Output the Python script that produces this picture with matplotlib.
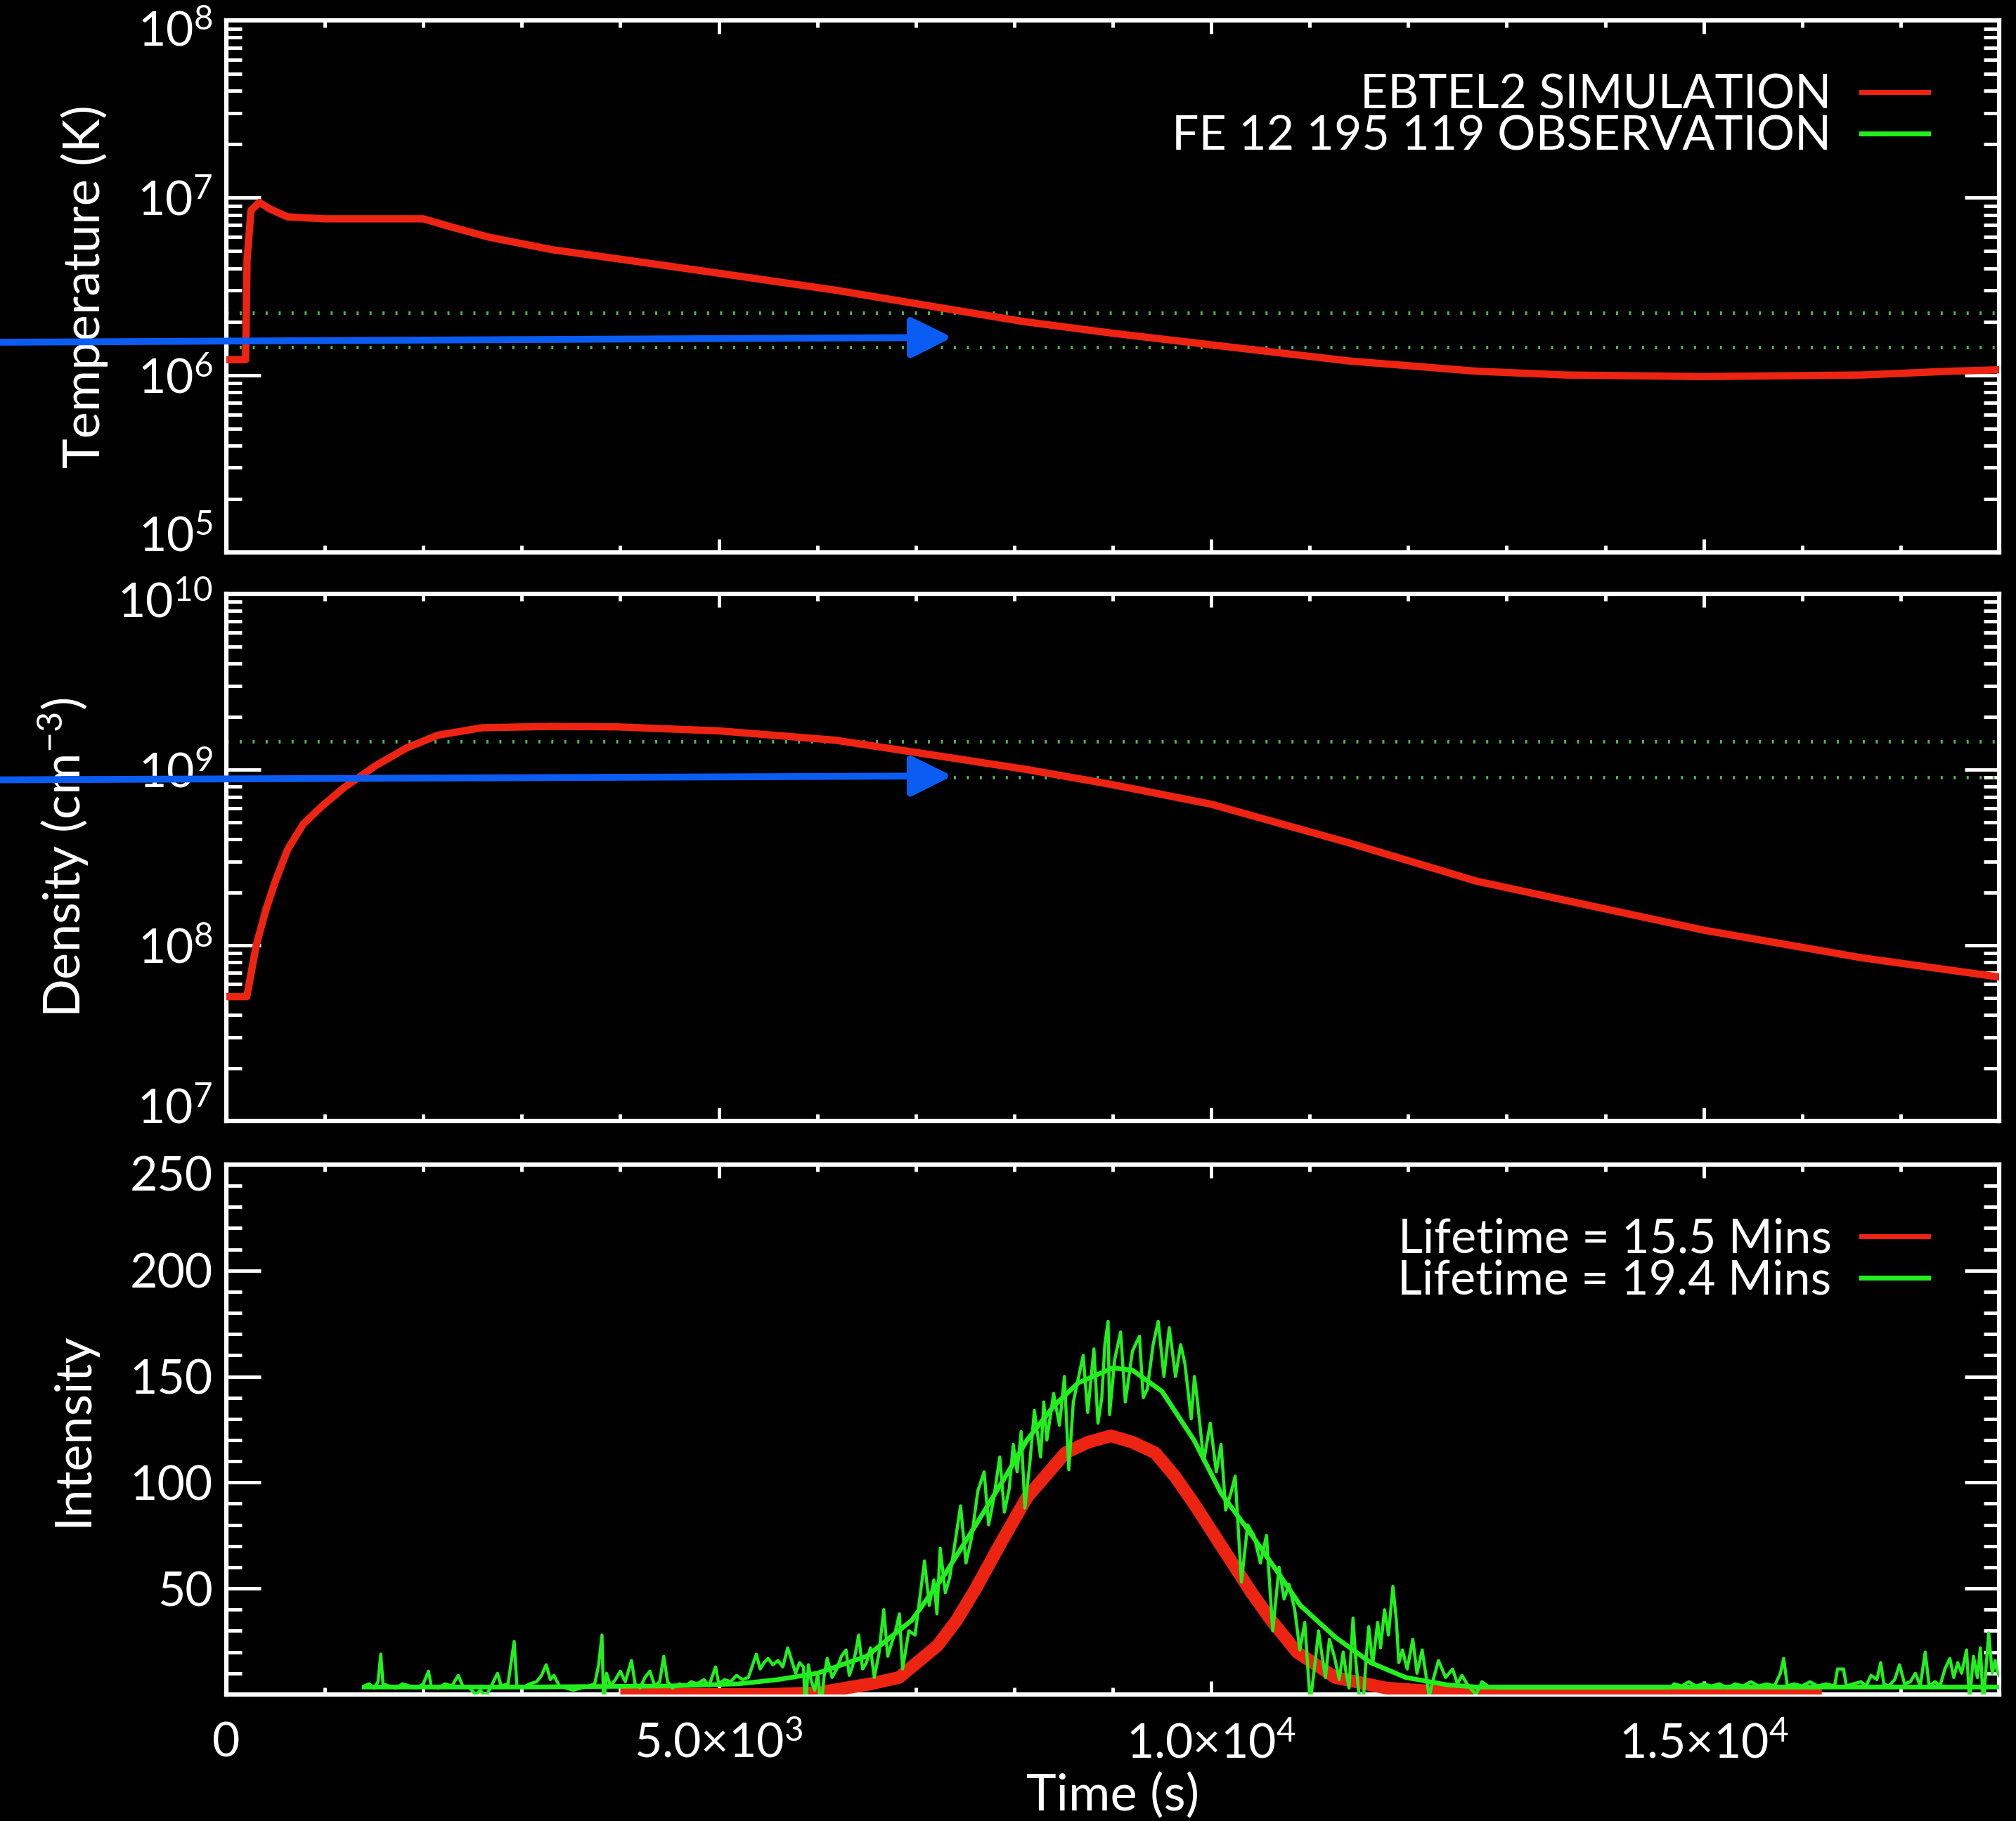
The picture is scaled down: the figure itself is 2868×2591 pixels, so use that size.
import matplotlib.pyplot as plt
import numpy as np
from matplotlib.ticker import (FixedLocator, FuncFormatter, LogLocator,
                               MultipleLocator, NullFormatter)
from matplotlib.transforms import ScaledTranslation
from matplotlib.lines import Line2D

plt.rcParams['font.family'] = ['Lato', 'DejaVu Sans']
plt.rcParams['mathtext.default'] = 'regular'

# ---------------- data ----------------
# EBTEL2 temperature (K)
temp_time = [0, 195, 210, 250, 335, 450, 620, 1000, 1500, 2000, 2300, 2660,
             3300, 4000, 5000, 6200, 7300, 8100, 9000, 10000, 11400, 12700,
             13600, 15000, 16600, 17500, 18000]
temp_vals = [1.22e6, 1.22e6, 4.5e6, 8.5e6, 9.4e6, 8.6e6, 7.8e6, 7.6e6, 7.6e6,
             7.6e6, 6.8e6, 6.0e6, 5.1e6, 4.5e6, 3.75e6, 3.0e6, 2.37e6, 2.0e6,
             1.72e6, 1.48e6, 1.2e6, 1.05e6, 1.0e6, 0.98e6, 1.0e6, 1.05e6,
             1.07e6]

# EBTEL2 density (cm^-3)
dens_time = [0, 207, 303, 398, 494, 621, 780, 972, 1195, 1513, 1832, 2150,
             2597, 3300, 3960, 5000, 6180, 7300, 8130, 9000, 10000, 11390,
             12690, 13600, 15000, 16600, 18000]
dens_vals = [5.1e7, 5.1e7, 1.0e8, 1.57e8, 2.29e8, 3.5e8, 4.9e8, 6.2e8, 7.9e8,
             1.05e9, 1.33e9, 1.57e9, 1.73e9, 1.76e9, 1.75e9, 1.66e9, 1.47e9,
             1.18e9, 1.0e9, 8.2e8, 6.35e8, 3.84e8, 2.32e8, 1.8e8, 1.22e8,
             8.5e7, 6.6e7]

# observed ranges (dotted lines)
temp_band = [2.25e6, 1.43e6]
dens_band = [1.45e9, 9.0e8]

# simulated Fe XII 195 intensity
sim_time = [4000, 5500, 6000, 6545, 6830, 7220, 7415, 7610, 7870, 8130, 8520,
            8750, 8980, 9200, 9430, 9630, 9825, 10020, 10215, 10410, 10610,
            10870, 11260, 11780, 12400, 13000, 16200]
sim_int = [0, 0, 0.8, 5, 8, 23, 35, 50, 72, 93, 114, 119, 122, 119, 114, 103,
           90, 76, 62, 48, 35, 20, 8, 3, 1, 0.3, 0]

# fitted observed light curve
fit_time = [1400, 3000, 4500, 5200, 5600, 6000, 6500, 6960, 7300, 7610, 7900,
            8130, 8400, 8650, 9000, 9200, 9500, 9825, 10100, 10430, 10700,
            10905, 11260, 11620, 11975, 12400, 12700, 18000]
fit_int = [3.5, 3.5, 4, 5, 7, 10, 18, 35, 57, 80, 102, 120, 136, 147, 154,
           153, 143, 120, 95, 74, 56, 42, 27, 15, 8, 4.5, 3.5, 3.5]

# observed light curve
obs_time = [
    1400, 1450, 1500, 1540, 1568, 1590, 1650, 1720, 1790, 1860, 1930, 2000,
    2052, 2080, 2150, 2220, 2290, 2355, 2400, 2470, 2530, 2580, 2630, 2680,
    2753, 2790, 2860, 2922, 2950, 3000, 3080, 3150, 3200, 3247, 3290, 3326,
    3380, 3450, 3520, 3600, 3680, 3740, 3780, 3814, 3830, 3860, 3900, 3950,
    4000, 4050, 4113, 4150, 4200, 4250, 4300, 4350, 4400, 4441, 4480, 4530,
    4600, 4660, 4720, 4780, 4850, 4900, 4967, 5000, 5060, 5120, 5180, 5240,
    5300, 5381, 5420, 5460, 5500, 5550, 5600, 5650, 5700, 5740, 5780, 5820,
    5860, 5880,
    5910, 5940, 5974, 6005, 6037, 6070, 6101, 6150, 6197, 6245, 6292, 6325,
    6356, 6390, 6420, 6460, 6500, 6540, 6579, 6625, 6675, 6715, 6754, 6795,
    6834, 6866, 6930, 6993, 7040, 7089, 7137, 7184, 7215, 7248, 7300, 7344,
    7400, 7455, 7510, 7567, 7630, 7694, 7740, 7790, 7853, 7900, 7949, 7990,
    8029, 8070, 8108, 8160, 8204, 8268, 8300, 8331, 8400, 8459, 8510, 8554,
    8600, 8650, 8700, 8746, 8809, 8850, 8889, 8920, 8953, 8968, 9020, 9080,
    9128, 9200, 9271, 9310, 9351, 9410, 9462, 9520, 9574, 9638, 9690, 9733,
    9797, 9830, 9861, 9924, 9990, 10052, 10100, 10147, 10200, 10243, 10307,
    10370, 10434, 10500, 10561, 10625, 10689, 10740, 10790, 10848,
    10900, 10950, 11005, 11060, 11090, 11120, 11160, 11200, 11250, 11300,
    11340, 11370, 11400, 11440, 11470, 11500, 11547, 11575, 11600, 11640,
    11690, 11720, 11760, 11800, 11845, 11880, 11905, 11942, 11990, 12047,
    12090, 12142, 12213, 12260, 12308, 12380, 12451, 12500, 12546, 12610,
    12689, 12750, 12808, 12900,
    14660, 14700, 14780, 14850, 14920, 15000, 15080, 15160, 15240, 15320,
    15400, 15480, 15560, 15640, 15720, 15780, 15813, 15850, 15920, 16000,
    16080, 16160, 16240, 16330, 16360, 16420, 16450, 16520, 16600, 16650,
    16700, 16760, 16798, 16830, 16880, 16940, 16990, 17040, 17100, 17150,
    17200, 17250, 17290, 17350, 17400, 17450, 17500, 17540, 17580, 17620,
    17670, 17700, 17740, 17780, 17810, 17840, 17870, 17895, 17930, 17960,
    17980, 18000]
obs_int = [
    4, 5, 3, 6, 19, 5, 4, 3, 5, 4, 3, 5,
    11, 4, 3, 5, 4, 9, 4, 3, 0, 2, -1, 3,
    10, 4, 5, 25, 4, 3, 5, 6, 9, 14, 7, 9,
    4, 3, 2, 3, 4, 5, 14, 28, -5, 10, 4, 7,
    11, 6, 16, 5, 3, 8, 11, 4, 6, 18, 6, 3,
    5, 4, 6, 5, 7, 4, 13, 5, 7, 6, 9, 7,
    8, 19, 12, 15, 17, 14, 16, 13, 22, 16, 10, 15,
    13, -7,
    14, 6, 2, 10, -7, 9, 17, 8, 12, 18, 21, 9,
    13, 20, 28, 12, 15, 22, 8, 19, 40, 18, 24, 30,
    38, 12, 30, 28, 45, 63, 42, 54, 38, 69, 48, 55,
    72, 89, 62, 74, 96, 105, 80, 92, 112, 86, 97, 118,
    105, 124, 88, 110, 134, 112, 138, 120, 142, 127, 150, 106,
    138, 149, 160, 133, 163, 128, 140, 165, 176, 132, 158, 171,
    138, 162, 169, 140, 144, 165, 176, 150, 173, 150, 165, 156,
    130, 150, 138, 110, 128, 105, 118, 87, 95, 103, 53,
    80, 75, 62, 75, 30, 60, 45, 52, 40,
    21, 34, -4, 17, 30, 20, 8, 26, 18, 7,
    20, 10, 3, 36, 15, 0, -1, 18, 32, 14,
    34, 22, 40, 28, 51, 35, 15, 21, 12, 26,
    10, 21, -1, 8, 16, 8, 12, 5, 9, 4,
    0, 6, 4, 3,
    3, 5, 4, 6, 4, 5, 4, 5, 3, 5,
    4, 6, 4, 5, 4, 10, 17, 4, 5, 4,
    6, 4, 5, 4, 12, 12, 4, 5, 6, 4,
    9, 7, 15, 5, 4, 7, 14, 5, 6, 10,
    4, 20, 4, 6, 4, 12, 17, 8, 15, 10,
    21, -3, 18, 8, 22, -5, 14, 29, 10, 16,
    11, 9]

xtick_vals = [0, 5000, 10000, 15000]
xtick_labels = ['0', '5.0×10$^{3}$', '1.0×10$^{4}$', '1.5×10$^{4}$']
legend_top = ['EBTEL2 SIMULATION', 'FE 12 195 119 OBSERVATION']
legend_bot = ['Lifetime = 15.5 Mins', 'Lifetime = 19.4 Mins']

# blue pointer arrows (start value at left edge, tip value)
arrow_time = 7370
arrow_temp = [1.53e6, 1.63e6]
arrow_dens = [8.74e8, 9.2e8]

# ---------------- styling ----------------
RED = '#ee2412'
GREEN = '#22f01e'
DOT = '#4cbc4c'
BLUE = '#0b5cf2'
FS = 49      # tick labels / legend
LFS = 52     # axis titles


def style(ax):
    ax.set_facecolor('black')
    for s in ax.spines.values():
        s.set_color('white')
        s.set_linewidth(4.5)
    ax.tick_params(which='both', direction='in', top=True, right=True,
                   color='white', labelcolor='white', labelsize=FS, width=3.5)
    ax.tick_params(axis='y', which='major', length=35, pad=14)
    ax.tick_params(axis='y', which='minor', length=16)
    ax.tick_params(axis='x', which='major', length=14, pad=28)
    ax.tick_params(axis='x', which='minor', length=7)
    ax.set_xlim(0, 18000)
    ax.xaxis.set_major_locator(FixedLocator(xtick_vals))
    ax.xaxis.set_major_formatter(
        FuncFormatter(lambda v, p: xtick_labels[xtick_vals.index(int(round(v)))]))
    ax.xaxis.set_minor_locator(MultipleLocator(1000))


def log_axis(ax, lo, hi):
    ax.set_yscale('log')
    ax.set_ylim(lo, hi)
    ax.yaxis.set_major_locator(LogLocator(base=10, numticks=20))
    ax.yaxis.set_minor_locator(LogLocator(base=10, subs=np.arange(2, 10), numticks=50))
    ax.yaxis.set_major_formatter(
        FuncFormatter(lambda v, p: '10$^{%d}$' % int(round(np.log10(v)))))
    ax.yaxis.set_minor_formatter(NullFormatter())


def nudge_end_labels(ax, up_pts, down_pts):
    # IDL draws the labels at the axis ends slightly inside the box
    lo, hi = ax.get_ylim()
    for tick, loc in zip(ax.yaxis.get_major_ticks(), ax.yaxis.get_majorticklocs()):
        if np.isclose(loc, lo):
            dy = up_pts
        elif np.isclose(loc, hi):
            dy = -down_pts
        else:
            continue
        lab = tick.label1
        lab.set_transform(lab.get_transform() +
                          ScaledTranslation(0, dy / 72, fig.dpi_scale_trans))


def add_legend(ax, labels):
    handles = [Line2D([], [], color=RED, lw=5), Line2D([], [], color=GREEN, lw=5)]
    leg = ax.legend(handles, labels, loc='upper right', bbox_to_anchor=(0.96, 0.90),
                    markerfirst=False, frameon=False, fontsize=FS,
                    labelcolor='white', handlelength=1.4, handletextpad=0.62,
                    labelspacing=-0.04, borderpad=0, borderaxespad=0)
    return leg


fig = plt.figure(figsize=(28.68, 25.91), dpi=100, facecolor='black')
left, width = 0.1123, 0.8793
ax1 = fig.add_axes([left, 0.6967, width, 0.2921])
ax2 = fig.add_axes([left, 0.3844, width, 0.2895])
ax3 = fig.add_axes([left, 0.0695, width, 0.2910])

# ---- temperature ----
style(ax1)
log_axis(ax1, 1e5, 1e8)
for v in temp_band:
    ax1.axhline(v, color=DOT, lw=3.5, ls=(0, (0.6, 3.2)))
ax1.plot(temp_time, temp_vals, color=RED, lw=7.5, zorder=3)
ax1.tick_params(axis='x', labelbottom=False)
ax1.set_ylabel('Temperature (K)', fontsize=LFS, color='white')
ax1.yaxis.set_label_coords(-0.0666, 0.5)
add_legend(ax1, legend_top)

# ---- density ----
style(ax2)
log_axis(ax2, 1e7, 1e10)
for v in dens_band:
    ax2.axhline(v, color=DOT, lw=3.5, ls=(0, (0.6, 3.2)))
ax2.plot(dens_time, dens_vals, color=RED, lw=7.5, zorder=3)
ax2.tick_params(axis='x', labelbottom=False)
ax2.set_ylabel('Density (cm$^{-3}$)', fontsize=LFS, color='white')
ax2.yaxis.set_label_coords(-0.0765, 0.5)

# ---- intensity ----
style(ax3)
ax3.set_ylim(0, 250)
ax3.yaxis.set_major_locator(MultipleLocator(50))
ax3.yaxis.set_minor_locator(MultipleLocator(10))
ax3.yaxis.set_major_formatter(FuncFormatter(lambda v, p: '' if v < 1 else '%d' % v))
ax3.plot(sim_time, sim_int, color=RED, lw=13, zorder=3, solid_capstyle='butt')
ax3.plot(obs_time, obs_int, color=GREEN, lw=3.2, zorder=4)
ax3.plot(fit_time, fit_int, color=GREEN, lw=4.8, zorder=5)
ax3.set_ylabel('Intensity', fontsize=LFS, color='white')
ax3.yaxis.set_label_coords(-0.0737, 0.5)
ax3.set_xlabel('Time (s)', fontsize=LFS, color='white')
ax3.xaxis.set_label_coords(0.5, -0.148)
add_legend(ax3, legend_bot)

nudge_end_labels(ax1, 19, 8)
nudge_end_labels(ax2, 16, 6)
nudge_end_labels(ax3, 0, 9)

# ---- blue pointer arrows ----
for ax, (y0, y1) in [(ax1, arrow_temp), (ax2, arrow_dens)]:
    ann = ax.annotate('', xy=(arrow_time, y1), xycoords='data',
                      xytext=(0, y0), textcoords=('figure fraction', 'data'),
                      arrowprops=dict(arrowstyle='-|>,head_length=0.4,head_width=0.2',
                                      color=BLUE, lw=7, mutation_scale=88,
                                      shrinkA=0, shrinkB=0),
                      annotation_clip=False, zorder=10)
    ann.arrow_patch.set_clip_on(False)

fig.savefig('out.png', dpi=100, facecolor='black')
